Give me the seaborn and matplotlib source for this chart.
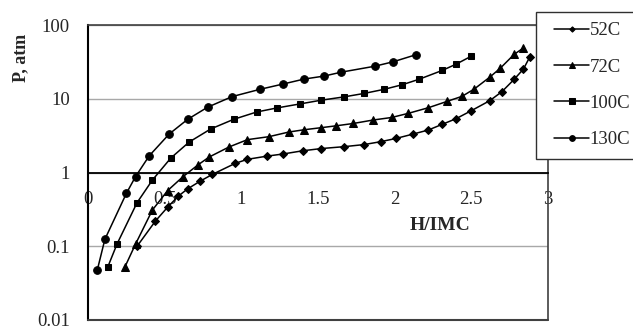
import matplotlib
matplotlib.use("Agg")
import matplotlib.pyplot as plt
from matplotlib.legend_handler import HandlerLine2D
import seaborn as sns
import pandas as pd

# ---- data ----
x52 = [0.32, 0.44, 0.52, 0.59, 0.65, 0.73, 0.81, 0.96, 1.04, 1.17, 1.27, 1.40, 1.52, 1.67,
       1.80, 1.91, 2.01, 2.12, 2.22, 2.31, 2.40, 2.50, 2.62, 2.70, 2.78, 2.84, 2.88]
p52 = [0.10, 0.22, 0.34, 0.48, 0.60, 0.76, 0.94, 1.33, 1.51, 1.67, 1.78, 1.97, 2.11, 2.24,
       2.39, 2.62, 2.90, 3.32, 3.77, 4.50, 5.36, 6.89, 9.41, 12.5, 18.4, 25.3, 36.5]

x72 = [0.24, 0.31, 0.42, 0.52, 0.62, 0.72, 0.79, 0.92, 1.04, 1.18, 1.31, 1.41, 1.52, 1.62,
       1.73, 1.86, 1.98, 2.09, 2.22, 2.34, 2.44, 2.52, 2.62, 2.69, 2.78, 2.84]
p72 = [0.052, 0.107, 0.31, 0.57, 0.88, 1.28, 1.62, 2.22, 2.79, 3.06, 3.54, 3.80, 4.05, 4.30,
       4.62, 5.15, 5.57, 6.35, 7.56, 9.18, 10.8, 13.6, 19.6, 26.1, 40.1, 48.8]

x100 = [0.13, 0.19, 0.32, 0.42, 0.54, 0.66, 0.80, 0.95, 1.10, 1.23, 1.38, 1.52, 1.67, 1.80,
        1.93, 2.05, 2.16, 2.31, 2.40, 2.50]
p100 = [0.053, 0.108, 0.39, 0.79, 1.57, 2.59, 3.89, 5.26, 6.61, 7.49, 8.49, 9.55, 10.6, 11.8,
        13.4, 15.5, 18.4, 24.2, 29.4, 37.8]

x130 = [0.06, 0.11, 0.25, 0.31, 0.40, 0.53, 0.65, 0.78, 0.94, 1.12, 1.27, 1.41, 1.54, 1.65,
        1.87, 1.99, 2.14]
p130 = [0.047, 0.124, 0.52, 0.88, 1.69, 3.33, 5.26, 7.68, 10.7, 13.4, 15.8, 18.5, 20.3, 22.9,
        27.6, 31.7, 39.6]

series_names = ["52C", "72C", "100C", "130C"]
xticks = [0, 0.5, 1, 1.5, 2, 2.5, 3]
xtick_labels = ["0", "0.5", "1", "1.5", "2", "2.5", "3"]
yticks = [0.01, 0.1, 1, 10, 100]
ytick_labels = ["0.01", "0.1", "1", "10", "100"]

sns.set_style("white")
plt.rcParams["font.family"] = ["Liberation Serif", "DejaVu Serif"]

fig = plt.figure(figsize=(6.33, 3.27), dpi=100)
W, H = 633, 327
ax = fig.add_axes([88 / W, 1 - 320 / H, (548 - 88) / W, (320 - 25) / H])

styles = {
    "52C": dict(marker="D", markersize=3.6),
    "72C": dict(marker="^", markersize=5.5),
    "100C": dict(marker="s", markersize=5),
    "130C": dict(marker="o", markersize=5.5),
}
data = {"52C": (x52, p52), "72C": (x72, p72), "100C": (x100, p100), "130C": (x130, p130)}

for name in series_names:
    xs, ps = data[name]
    df = pd.DataFrame({"x": xs, "p": ps})
    sns.lineplot(data=df, x="x", y="p", ax=ax, color="black", linewidth=1.1,
                 markeredgecolor="black", markerfacecolor="black", label=name,
                 sort=False, **styles[name])

ax.set_yscale("log")
ax.set_xlim(0, 3)
ax.set_ylim(0.01, 100)
ax.set_yticks(yticks)
ax.set_yticklabels(ytick_labels)
ax.minorticks_off()
ax.set_xticks(xticks)
ax.set_xticklabels(xtick_labels)

ax.grid(axis="y", color="#a8a8a8", linewidth=1.0)
ax.set_axisbelow(True)

ax.spines["bottom"].set_position(("data", 1))
ax.spines["bottom"].set_color("black")
ax.spines["bottom"].set_linewidth(1.3)
ax.spines["left"].set_color("black")
ax.spines["left"].set_linewidth(1.5)
for s in ["top", "right"]:
    ax.spines[s].set_visible(True)
    ax.spines[s].set_color("#404040")
    ax.spines[s].set_linewidth(1.2)
ax.axhline(0.01, color="#404040", linewidth=1.5, clip_on=False, zorder=5)

ax.tick_params(axis="x", direction="out", length=5, width=1.2, color="black",
               labelsize=13.5, pad=8)
ax.tick_params(axis="y", direction="in", length=5, width=1.2, color="black",
               labelsize=13.5, pad=13)

ax.set_xlabel("")
ax.set_ylabel("")
fig.text(21 / W, 1 - 58 / H, "P, atm", rotation=90, fontsize=13, fontweight="bold",
         ha="center", va="center")
fig.text(440 / W, 1 - 226 / H, "H/IMC", fontsize=14, fontweight="bold",
         ha="center", va="center")

handles, labels = ax.get_legend_handles_labels()
if ax.legend_:
    ax.legend_.remove()
leg = fig.legend(handles, labels, loc="upper left",
                 bbox_to_anchor=(536 / W, 1 - 12 / H), bbox_transform=fig.transFigure,
                 frameon=True, fancybox=False, framealpha=1, edgecolor="#303030",
                 fontsize=13.5, handlelength=2.3, handletextpad=0.0,
                 labelspacing=1.02, borderpad=0.55, borderaxespad=0,
                 handler_map={h: HandlerLine2D(xpad=0.4) for h in handles})
leg.get_frame().set_linewidth(1.0)
for h in leg.legend_handles:
    try:
        h.set_markersize(h.get_markersize() * 0.75)
    except Exception:
        pass

fig.savefig("out.png", dpi=100)
